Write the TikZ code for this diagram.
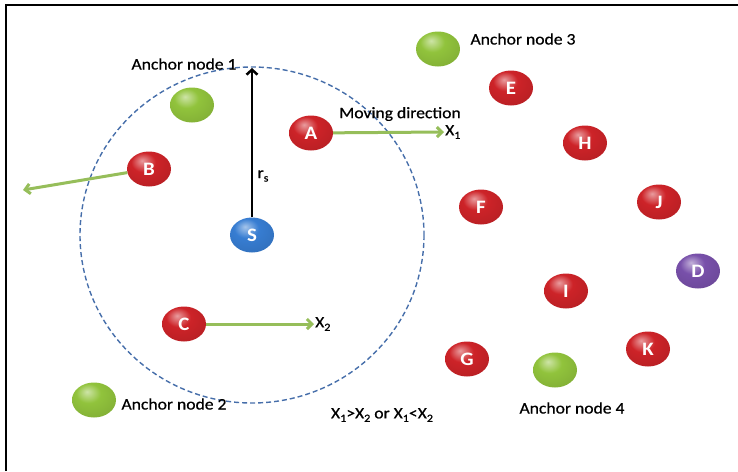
\documentclass[tikz,border=0pt]{standalone}
\usepackage{fontspec}
\setmainfont{Carlito}[FakeStretch=1.1]
\newfontfamily\lblfont{Carlito}[FakeStretch=1.1,FakeBold=0.6]
\usetikzlibrary{shapes.geometric,arrows.meta}
\definecolor{nodered}{RGB}{205,35,40}
\definecolor{nodegreen}{RGB}{145,195,60}
\definecolor{nodeblue}{RGB}{55,125,210}
\definecolor{nodepurple}{RGB}{120,80,170}
\definecolor{movegreen}{RGB}{150,190,90}
\definecolor{rangeblue}{RGB}{70,110,170}
\pgfdeclareradialshading{redball}{\pgfpoint{-8bp}{12bp}}{color(0bp)=(nodered!45!white); color(14bp)=(nodered); color(38bp)=(nodered!88!black); color(50bp)=(nodered!62!black); color(70bp)=(nodered!62!black)}
\pgfdeclareradialshading{greenball}{\pgfpoint{-8bp}{12bp}}{color(0bp)=(nodegreen!45!white); color(14bp)=(nodegreen); color(38bp)=(nodegreen!88!black); color(50bp)=(nodegreen!62!black); color(70bp)=(nodegreen!62!black)}
\pgfdeclareradialshading{blueball}{\pgfpoint{-8bp}{12bp}}{color(0bp)=(nodeblue!45!white); color(14bp)=(nodeblue); color(38bp)=(nodeblue!88!black); color(50bp)=(nodeblue!62!black); color(70bp)=(nodeblue!62!black)}
\pgfdeclareradialshading{purpleball}{\pgfpoint{-8bp}{12bp}}{color(0bp)=(nodepurple!45!white); color(14bp)=(nodepurple); color(38bp)=(nodepurple!88!black); color(50bp)=(nodepurple!62!black); color(70bp)=(nodepurple!62!black)}
\newcommand{\lowsub}[1]{\raisebox{-.45ex}{\fontsize{11}{11}\selectfont #1}}
\tikzset{
  ball/.style={ellipse,minimum width=44pt,minimum height=35pt,inner sep=0pt,
    text=white,font=\fontsize{19}{19}\selectfont\bfseries},
  rednode/.style={ball,shading=redball},
  anchornode/.style={ball,shading=greenball},
  lbl/.style={font=\lblfont\fontsize{16}{16}\selectfont,inner sep=1pt},
  move/.style={movegreen,line width=3pt,-{Straight Barb[length=5pt,width=10pt]}}
}
\begin{document}
\begin{tikzpicture}[x=1pt,y=-1pt]
    \useasboundingbox (0,0) rectangle (738,471);
    \draw[line width=2.5pt] (6,471) -- (6,5) -- (738,5);
    % sensor and its range
    \node[ball,shading=blueball] (S) at (252,235) {S};
    \draw[rangeblue,dash pattern=on 5pt off 3pt,line width=1.4pt]
        (S) ellipse [x radius=172,y radius=168];
    \coordinate (top) at (252,68);
    \draw[line width=2.5pt,-{Straight Barb[length=5pt,width=11pt]}] (S) -- (top);
    \node[lbl] at (263,176) {r\lowsub{s}};
    % anchor nodes
    \node[anchornode] (anc1) at (192,105) {};
    \node[anchornode] (anc2) at (94,400) {};
    \node[anchornode] (anc3) at (438,49) {};
    \node[anchornode] (anc4) at (555,370) {};
    \node[lbl] (t1) at (184,64) {Anchor node 1};
    \node[lbl] (t2) at (174,404) {Anchor node 2};
    \node[lbl] (t3) at (523,39) {Anchor node 3};
    \node[lbl] (t4) at (572,408) {Anchor node 4};
    % moving and fixed nodes
    \foreach \n/\x/\y in {A/311/133,B/149/169,C/184/324,E/511/88,H/585/143,
                          F/481/207,J/659/202,I/566/291,K/648/349,G/467/359}
    {
    \node[rednode] (\n) at (\x,\y) {\n};
    }
    \node[ball,shading=purpleball] (D) at (698,271) {D};
    % moving directions
    \coordinate (x1) at (444,132);
    \coordinate (x2) at (314,324);
    \coordinate (bout) at (23,190);
    \draw[move] (A) -- (x1);
    \draw[move] (C) -- (x2);
    \draw[move] (B) -- (bout);
    \node[lbl,right] at (x1) {X\lowsub{1}};
    \node[lbl,right] at (x2) {X\lowsub{2}};
    \node[lbl] at (400,114) {Moving direction};
    \node[lbl] at (382,415) {X\lowsub{1}>X\lowsub{2} or X\lowsub{1}<X\lowsub{2}};
\end{tikzpicture}
\end{document}
